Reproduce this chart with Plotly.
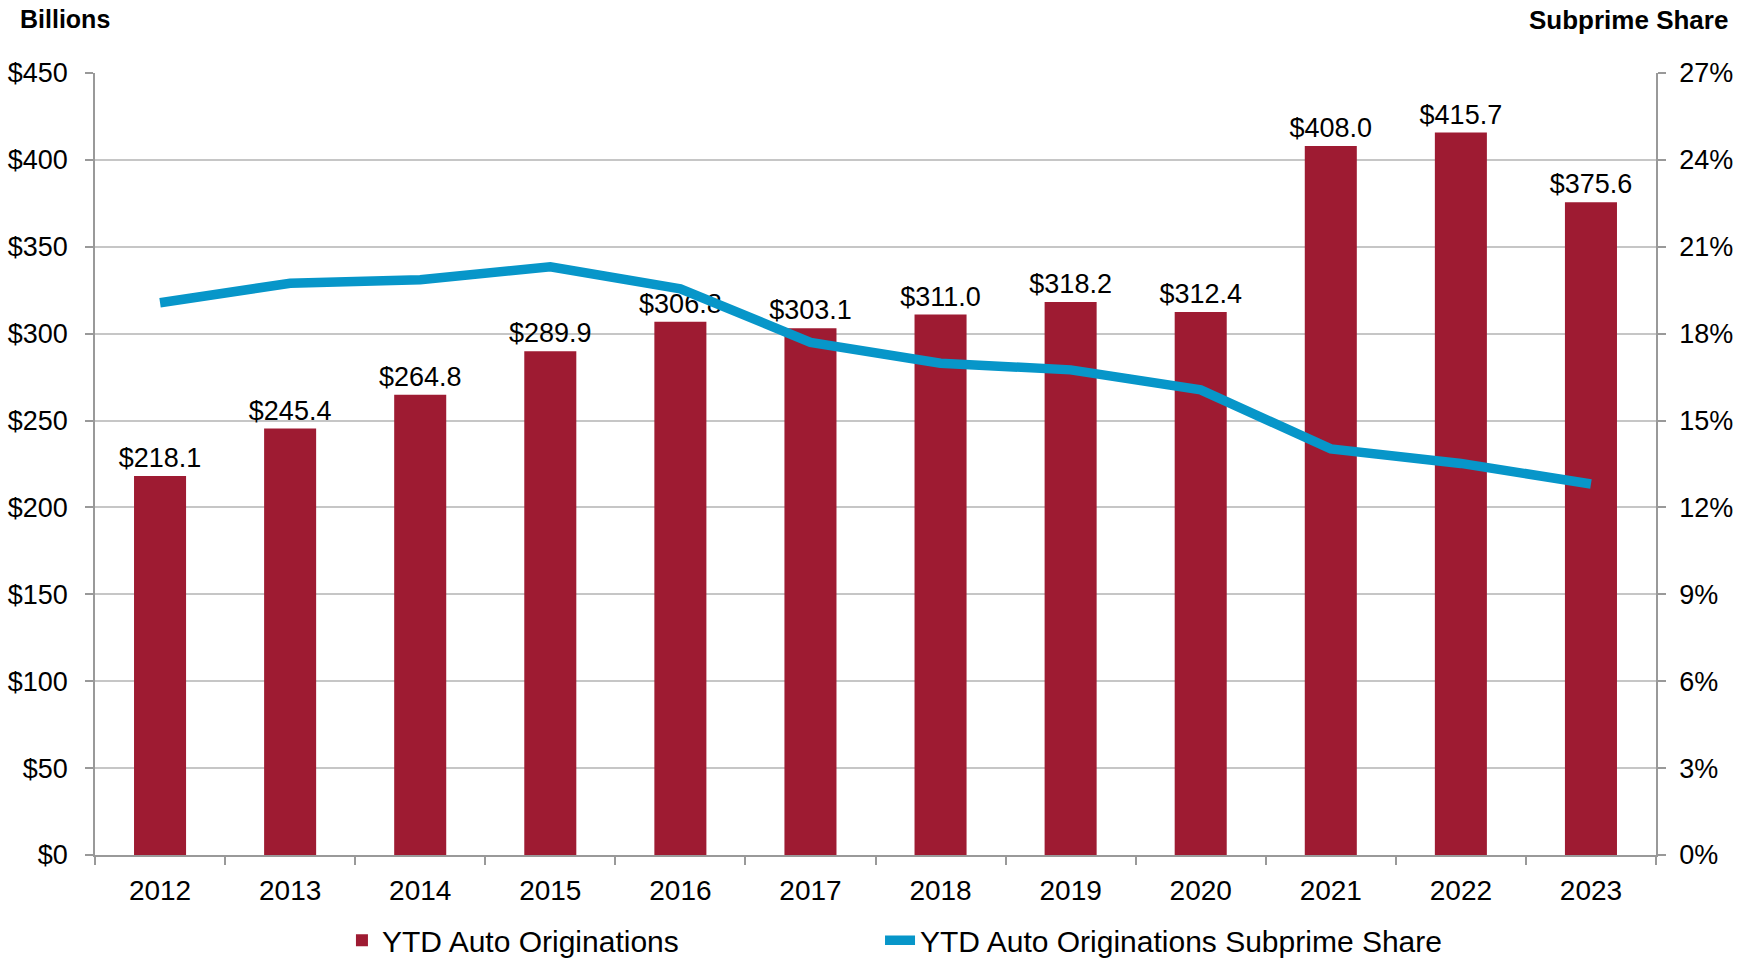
import plotly.graph_objects as go

years = ["2012", "2013", "2014", "2015", "2016", "2017", "2018", "2019", "2020", "2021", "2022", "2023"]
originations = [218.1, 245.4, 264.8, 289.9, 306.8, 303.1, 311.0, 318.2, 312.4, 408.0, 415.7, 375.6]
subprime_share = [19.07, 19.74, 19.86, 20.31, 19.55, 17.70, 16.98, 16.75, 16.06, 14.02, 13.52, 12.81]
left_ticks = [0, 50, 100, 150, 200, 250, 300, 350, 400, 450]
right_ticks = [0, 3, 6, 9, 12, 15, 18, 21, 24, 27]

FONT = "Liberation Sans, Arial, sans-serif"
BAR_COLOR = "#9e1b32"
LINE_COLOR = "#0796c9"
AXIS_COLOR = "#999999"

fig = go.Figure()
fig.add_trace(go.Bar(
    x=years, y=originations, name="YTD Auto Originations",
    marker=dict(color=BAR_COLOR, line=dict(width=0)),
    width=0.4,
    text=[f"${v:.1f}" for v in originations],
    textposition="outside", constraintext="none", cliponaxis=False,
    textfont=dict(family=FONT, size=27, color="#000000"),
    legend="legend",
))
fig.add_trace(go.Scatter(
    x=years, y=subprime_share, name="YTD Auto Originations Subprime Share",
    mode="lines", line=dict(color=LINE_COLOR, width=9.5),
    yaxis="y2", cliponaxis=False,
    legend="legend2",
))

legend_common = dict(
    orientation="h", y=-0.109, xanchor="left", yanchor="middle",
    font=dict(family=FONT, size=30, color="#000000"),
    bgcolor="rgba(0,0,0,0)",
)

fig.update_layout(
    width=1750, height=960,
    margin=dict(l=95, r=94, t=73, b=105, autoexpand=False),
    paper_bgcolor="white", plot_bgcolor="white",
    font=dict(family=FONT, size=27, color="#000000"),
    showlegend=True,
    legend=dict(x=0.1582, **legend_common),
    legend2=dict(x=0.5029, **legend_common),
    xaxis=dict(
        type="category", range=[-0.5, 11.5],
        showline=True, linecolor=AXIS_COLOR, linewidth=1.5,
        ticks="outside", tickson="boundaries", ticklen=8, tickcolor=AXIS_COLOR, tickwidth=1.5,
        showgrid=False, tickfont=dict(family=FONT, size=28, color="#000000"),
        ticklabelstandoff=10,
    ),
    yaxis=dict(
        range=[0, 450], tickvals=left_ticks,
        ticktext=[f"${v}" for v in left_ticks],
        showline=True, linecolor=AXIS_COLOR, linewidth=1.5,
        ticks="outside", ticklen=8, tickcolor=AXIS_COLOR, tickwidth=1.5,
        showgrid=True, gridcolor="#c6c6c6", gridwidth=1.5,
        zeroline=False,
        tickfont=dict(family=FONT, size=27, color="#000000"),
        ticklabelstandoff=12,
    ),
    yaxis2=dict(
        range=[0, 27], tickvals=right_ticks,
        ticktext=[f"{v}%" for v in right_ticks],
        overlaying="y", side="right",
        showline=True, linecolor=AXIS_COLOR, linewidth=1.5,
        ticks="outside", ticklen=8, tickcolor=AXIS_COLOR, tickwidth=1.5,
        showgrid=False, zeroline=False,
        tickfont=dict(family=FONT, size=27, color="#000000"),
        ticklabelstandoff=8,
    ),
    annotations=[
        dict(text="<b>Billions</b>", xref="paper", yref="paper", x=-0.0493, y=1.069,
             xanchor="left", yanchor="middle", showarrow=False,
             font=dict(family=FONT, size=25, color="#000000")),
        dict(text="<b>Subprime Share</b>", xref="paper", yref="paper", x=1.0474, y=1.068,
             xanchor="right", yanchor="middle", showarrow=False,
             font=dict(family=FONT, size=26, color="#000000")),
    ],
)

fig.write_html(
    "out.html",
    config={"displayModeBar": False},
    post_script="document.body.style.margin='0px';document.body.style.overflow='hidden';",
)
